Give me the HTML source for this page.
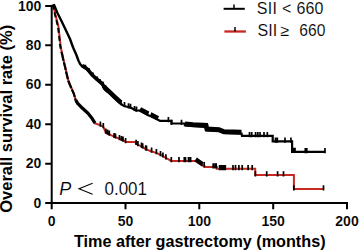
<!DOCTYPE html>
<html><head><meta charset="utf-8">
<style>
html,body{margin:0;padding:0;background:#fff;width:359px;height:251px;overflow:hidden}
svg{display:block}
text{font-family:"Liberation Sans",sans-serif}
.b{font-weight:bold;stroke:#fff;stroke-width:0.1px}
.bb{font-weight:bold}
.r{stroke:#fff;stroke-width:0.12px}
</style></head><body>
<svg width="359" height="251" viewBox="0 0 359 251">
<polyline fill="none" stroke="#c82822" stroke-width="2" points="52.00,6.00 53.50,6.00 55.50,15.00 58.50,27.00 59.60,37.00 60.70,46.50 62.00,53.00 63.30,59.00 65.00,66.00 66.80,74.00 68.50,81.00 71.20,87.50 74.00,93.80 75.90,100.50 77.50,103.50 82.00,108.20 88.00,113.70 92.00,118.70 95.00,123.50 99.80,125.00 103.40,127.00 105.80,132.50 109.30,134.30 114.10,136.70 118.90,138.50 123.70,140.70 126.00,142.00 134.90,142.00 136.70,144.30 141.50,146.30 145.70,149.10 151.00,151.20 157.00,153.10 161.70,155.50 165.90,158.00 171.30,160.90 195.60,160.90 202.30,165.50 204.50,166.00 204.50,167.10 216.80,167.10 216.80,168.80 255.20,168.80 255.20,175.00 293.90,175.00 293.90,189.10 323.50,189.10"/>
<polyline fill="none" stroke="#000" stroke-width="2" stroke-linejoin="round" stroke-dasharray="5 3" points="51.60,6.00 53.10,6.00 55.10,15.00 58.10,27.00 59.20,37.00 60.30,46.50 61.60,53.00"/>
<polyline fill="none" stroke="#000" stroke-width="2.2" stroke-linejoin="round" stroke-dasharray="8 1.5" points="61.80,53.00 63.10,59.00 64.80,66.00 66.60,74.00 68.30,81.00 71.00,87.50 73.80,93.80 75.70,100.50 77.30,103.50 77.80,104.02"/>
<polyline fill="none" stroke="#000" stroke-width="3.2" stroke-linejoin="round" points="76.00,100.29 77.50,103.10 82.00,107.80 88.00,113.30 92.00,118.30 95.00,123.10"/>
<polyline fill="none" stroke="#000" stroke-width="4.5" points="195.60,159.40 202.30,164.00 202.80,164.11"/>
<path fill="none" stroke="#000" stroke-width="1.7" d="M100.4 121.5V126.7M103.3 123.1V128.3M105.7 128.5V133.7M107.5 129.6V134.8M109.3 130.5V135.7M114.1 132.9V138.1M115.5 133.4V138.6M119.5 135.0V140.2M121.5 135.9V141.1M123.0 136.6V141.8M125.6 138.0V143.2M136.1 139.7V144.9M137.9 141.0V146.2M141.5 142.5V147.7M142.7 143.3V148.5M145.7 145.3V150.5M146.5 145.6V150.8M151.6 147.6V152.8M156.4 149.1V154.3M160.5 151.1V156.3M162.9 152.4V157.6M165.9 154.2V159.4M171.3 157.1V162.3M179.0 157.1V162.3M184.3 157.1V162.3M185.5 157.1V162.3M188.5 157.1V162.3M190.3 157.1V162.3M190.6 157.1V162.3M204.2 162.1V167.3M213.2 163.3V168.5M215.0 163.3V168.5M216.2 163.3V168.5M219.6 165.0V170.2M221.2 165.0V170.2M222.8 165.0V170.2M224.2 165.0V170.2M225.3 165.0V170.2M233.0 165.0V170.2M235.5 165.0V170.2M238.9 165.0V170.2M242.2 165.0V170.2M248.1 165.0V170.2M252.2 165.0V170.2M255.4 171.2V176.4M266.7 171.2V176.4M277.6 171.2V176.4M283.5 171.2V176.4M293.9 185.2V190.4M323.5 185.3V190.5"/>
<polyline fill="none" stroke="#000" stroke-width="2.2" points="83.00,66.64 87.20,69.50 92.00,75.30 96.80,79.80 102.50,84.60 105.00,89.20 110.00,93.80 115.00,98.60 120.00,103.20 122.70,105.20 126.00,106.50 130.70,107.50 135.50,110.30 139.50,110.50 141.90,111.80 148.20,115.20 151.00,116.20 158.00,119.80 160.00,120.90 171.50,120.90 171.50,123.50 184.90,123.50 184.90,125.30 193.00,126.00 206.00,126.70 207.00,130.30 219.00,131.00 224.00,133.00 241.50,133.50 242.00,135.80 272.70,135.80 272.70,141.40 292.10,141.40 292.10,151.80 325.00,151.80"/>
<polyline fill="none" stroke="#000" stroke-width="2.4" stroke-linejoin="round" points="51.60,6.00 54.10,5.00 57.20,12.50 61.10,20.30 64.60,27.50 69.80,38.50 73.10,47.50 76.40,55.00 78.40,60.50 80.10,64.00 82.10,66.30 83.60,67.32"/>
<polyline fill="none" stroke="#000" stroke-width="3.6" stroke-linejoin="round" points="82.00,65.12 82.50,65.70 87.20,68.90 92.00,74.70 96.80,79.20 102.50,84.00 105.00,88.60 108.00,91.36"/>
<polyline fill="none" stroke="#000" stroke-width="4.6" points="104.00,85.96 105.00,87.80 110.00,92.40 115.00,97.20 120.00,101.80 121.00,102.54"/>
<polyline fill="none" stroke="#000" stroke-width="4.6" points="140.00,109.17 141.90,110.20 148.20,113.60 148.50,113.71"/>
<polyline fill="none" stroke="#000" stroke-width="4.6" points="150.50,114.42 151.00,114.60 158.00,118.20"/>
<polyline fill="none" stroke="#000" stroke-width="5.0" points="185.00,124.11 193.00,124.80 206.00,125.50 207.00,129.10 219.00,129.80 224.00,131.80 241.50,132.30"/>
<path fill="none" stroke="#000" stroke-width="1.7" d="M121.0 100.1V105.3M124.5 102.1V107.3M128.5 103.2V108.4M130.5 103.7V108.9M134.5 105.9V111.1M136.5 106.5V111.8M168.4 117.1V122.3M171.5 119.7V124.9M181.5 119.7V124.9M249.5 132.0V137.2M251.7 132.0V137.2M255.6 132.0V137.2M257.8 132.0V137.2M260.0 132.0V137.2M264.0 132.0V137.2M267.3 132.0V137.2M275.5 137.6V142.8M277.3 137.6V142.8M285.0 137.6V142.8M290.9 137.6V142.8M293.6 147.8V153.0M295.0 147.8V153.0M305.3 148.0V153.2M306.8 148.0V153.2M325.0 148.0V153.2"/>
<path fill="none" stroke="#000" stroke-width="2.6" d="M85.0 64.8V68.5M88.5 67.9V71.6M92.5 72.6V76.3M96.8 76.6V80.3M99.5 78.9V82.6M102.7 81.8V85.5"/>
<g stroke="#000" stroke-width="2" fill="none">
<path d="M51.7 5 V204.1 M50.7 203.1 H348"/>
<path d="M45.2 5.9 H51.7 M45.2 45.3 H51.7 M45.2 84.8 H51.7 M45.2 124.2 H51.7 M45.2 163.7 H51.7 M45.2 203.1 H51.7"/>
<path d="M51.7 203.1 V209.3 M125.5 203.1 V209.3 M199.3 203.1 V209.3 M273.2 203.1 V209.3 M347 203.1 V209.3"/>
</g>
<g class="b" font-size="15" text-anchor="end">
<text x="41.4" y="10.5" textLength="23.35" lengthAdjust="spacingAndGlyphs">100</text>
<text x="41.4" y="49.9" textLength="15.57" lengthAdjust="spacingAndGlyphs">80</text>
<text x="41.4" y="89.4" textLength="15.57" lengthAdjust="spacingAndGlyphs">60</text>
<text x="41.4" y="128.8" textLength="15.57" lengthAdjust="spacingAndGlyphs">40</text>
<text x="41.4" y="168.3" textLength="15.57" lengthAdjust="spacingAndGlyphs">20</text>
<text x="41.4" y="207.7" textLength="7.78" lengthAdjust="spacingAndGlyphs">0</text>
</g>
<g class="b" font-size="15" text-anchor="middle">
<text x="51.7" y="225.7" textLength="7.78" lengthAdjust="spacingAndGlyphs">0</text>
<text x="125.5" y="225.7" textLength="15.57" lengthAdjust="spacingAndGlyphs">50</text>
<text x="199.3" y="225.7" textLength="23.35" lengthAdjust="spacingAndGlyphs">100</text>
<text x="273.2" y="225.7" textLength="23.35" lengthAdjust="spacingAndGlyphs">150</text>
<text x="347" y="225.7" textLength="23.35" lengthAdjust="spacingAndGlyphs">200</text>
</g>
<text class="bb" x="199.75" y="247" font-size="16.2" text-anchor="middle">Time after gastrectomy (months)</text>
<text class="bb" transform="translate(12.3,118.8) rotate(-90)" font-size="16.5" text-anchor="middle">Overall survival rate (%)</text>
<g fill="none">
<path d="M223.6 8.8 H244.8" stroke="#000" stroke-width="2"/>
<path d="M234 4.5 V8.8" stroke="#000" stroke-width="1.5"/>
<path d="M224.4 31.5 H245.9" stroke="#c82822" stroke-width="2.3"/>
<path d="M235 27 V31.5" stroke="#000" stroke-width="1.5"/>
</g>
<g class="r" font-size="16">
<text x="256.7" y="14.4" letter-spacing="0.4">SII</text>
<text x="282.1" y="14.4">&lt;</text>
<text x="296.6" y="14.4">660</text>
<text x="257.4" y="36.3" letter-spacing="0.1">SII</text>
<text x="280.4" y="36.3">≥</text>
<text x="299.3" y="36.3" font-size="15.6">660</text>
</g>
<text class="r" x="59.2" y="195.2" font-size="18" font-style="italic">P</text>
<path d="M92.6 183.3 L79 188.8 L92.6 194.2" stroke="#000" stroke-width="1.05" fill="none"/>
<text class="r" x="104.5" y="195.3" font-size="18" textLength="42.5" lengthAdjust="spacingAndGlyphs">0.001</text>
</svg>
</body></html>
